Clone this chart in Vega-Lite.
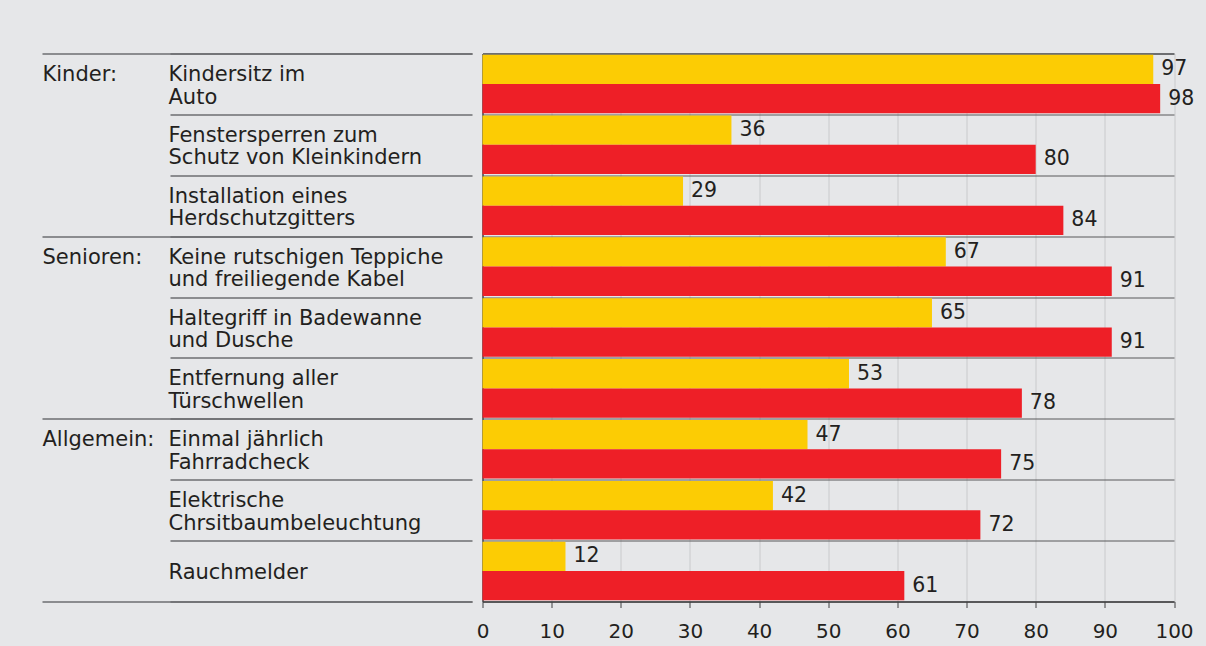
{
  "$schema": "https://vega.github.io/schema/vega-lite/v6.json",
  "width": 691.5,
  "height": 548,
  "autosize": {"type": "none"},
  "padding": {"left": 482.5, "top": 53.5, "right": 32, "bottom": 44.5},
  "background": "#e6e7e9",
  "config": {
    "view": {"stroke": null},
    "font": "DejaVu Sans",
    "axis": {"labelFont": "DejaVu Sans", "labelColor": "#231f20", "title": null}
  },
  "data": {
    "values": [
      {"item": "Kindersitz im\nAuto", "series": "Reihe 1", "value": 97},
      {"item": "Kindersitz im\nAuto", "series": "Reihe 2", "value": 98},
      {"item": "Fenstersperren zum\nSchutz von Kleinkindern", "series": "Reihe 1", "value": 36},
      {"item": "Fenstersperren zum\nSchutz von Kleinkindern", "series": "Reihe 2", "value": 80},
      {"item": "Installation eines\nHerdschutzgitters", "series": "Reihe 1", "value": 29},
      {"item": "Installation eines\nHerdschutzgitters", "series": "Reihe 2", "value": 84},
      {"item": "Keine rutschigen Teppiche\nund freiliegende Kabel", "series": "Reihe 1", "value": 67},
      {"item": "Keine rutschigen Teppiche\nund freiliegende Kabel", "series": "Reihe 2", "value": 91},
      {"item": "Haltegriff in Badewanne\nund Dusche", "series": "Reihe 1", "value": 65},
      {"item": "Haltegriff in Badewanne\nund Dusche", "series": "Reihe 2", "value": 91},
      {"item": "Entfernung aller\nTürschwellen", "series": "Reihe 1", "value": 53},
      {"item": "Entfernung aller\nTürschwellen", "series": "Reihe 2", "value": 78},
      {"item": "Einmal jährlich\nFahrradcheck", "series": "Reihe 1", "value": 47},
      {"item": "Einmal jährlich\nFahrradcheck", "series": "Reihe 2", "value": 75},
      {"item": "Elektrische\nChrsitbaumbeleuchtung", "series": "Reihe 1", "value": 42},
      {"item": "Elektrische\nChrsitbaumbeleuchtung", "series": "Reihe 2", "value": 72},
      {"item": "Rauchmelder", "series": "Reihe 1", "value": 12},
      {"item": "Rauchmelder", "series": "Reihe 2", "value": 61}
    ]
  },
  "encoding": {
    "y": {"field": "item", "type": "nominal", "sort": null, "scale": {"paddingInner": 0, "paddingOuter": 0}},
    "yOffset": {"field": "series", "type": "nominal", "sort": ["Reihe 1", "Reihe 2"], "scale": {"paddingInner": 0, "paddingOuter": 0.04}},
    "x": {"field": "value", "type": "quantitative", "scale": {"domain": [0, 100], "nice": false}}
  },
  "layer": [
    {
      "mark": {"type": "bar"},
      "encoding": {
        "y": {
          "field": "item", "type": "nominal", "sort": null,
          "axis": {
            "orient": "left", "offset": 10.5, "domain": false,
            "ticks": true, "tickSize": 302, "tickColor": "#6d6e71", "tickWidth": 1.5,
            "tickBand": "extent", "grid": true,
            "gridColor": {"condition": {"test": "!isString(datum.value)", "value": "#6d6e71"}, "value": "#58595b"},
            "gridWidth": {"condition": {"test": "!isString(datum.value)", "value": 2}, "value": 1},
            "labelAlign": "left",
            "labelBaseline": {"condition": {"test": "datum.label == 'Rauchmelder'", "value": "top"}, "value": "middle"},
            "labelPadding": 2,
            "labelFontSize": 21, "labelLineHeight": 22.6, "labelLimit": 0,
            "labelExpr": "split(datum.label, '\\n')",
            "labelOffset": -9.5
          }
        },
        "x": {
          "field": "value", "type": "quantitative",
          "axis": {
            "orient": "bottom",
            "values": [0, 10, 20, 30, 40, 50, 60, 70, 80, 90, 100],
            "grid": true,
            "gridColor": {"condition": {"test": "datum.value == 0", "value": "#414042"}, "value": "#c9cacc"},
            "gridWidth": {"condition": {"test": "datum.value == 0", "value": 1.5}, "value": 1},
            "domainColor": "#414042", "domainWidth": 1.5,
            "tickColor": "#414042", "tickSize": 6, "tickWidth": 1,
            "labelFontSize": 20, "labelPadding": 14, "labelFlush": false
          }
        },
        "color": {
          "field": "series", "type": "nominal", "legend": null,
          "scale": {"domain": ["Reihe 1", "Reihe 2"], "range": ["#fccc04", "#ee1f27"]}
        }
      }
    },
    {
      "mark": {"type": "text", "align": "left", "baseline": "middle", "dx": 8, "fontSize": 20.5, "fill": "#231f20", "font": "DejaVu Sans"},
      "encoding": {
        "y": {
          "field": "item", "type": "nominal", "sort": null,
          "axis": {
            "orient": "left", "offset": 10.5, "domain": false, "grid": false,
            "ticks": true, "tickBand": "extent", "tickColor": "#6d6e71", "tickWidth": 1.5,
            "tickSize": 430,
            "tickOpacity": {"condition": {"test": "!isString(datum.value) || indexof(datum.value,'Installation') >= 0 || indexof(datum.value,'Entfernung') >= 0 || indexof(datum.value,'Rauchmelder') >= 0", "value": 1}, "value": 0},
            "labelAlign": "left", "labelBaseline": "middle", "labelPadding": 0,
            "labelFontSize": 21, "labelLimit": 0, "labelOffset": -9.5,
            "labelExpr": "!isString(datum.value) ? '' : indexof(datum.value,'Kindersitz') >= 0 ? 'Kinder:' : indexof(datum.value,'Keine rutschigen') >= 0 ? 'Senioren:' : indexof(datum.value,'Einmal') >= 0 ? 'Allgemein:' : ''"
          }
        },
        "text": {"field": "value", "type": "quantitative"}
      }
    }
  ],
  "resolve": {"axis": {"y": "independent"}}
}
